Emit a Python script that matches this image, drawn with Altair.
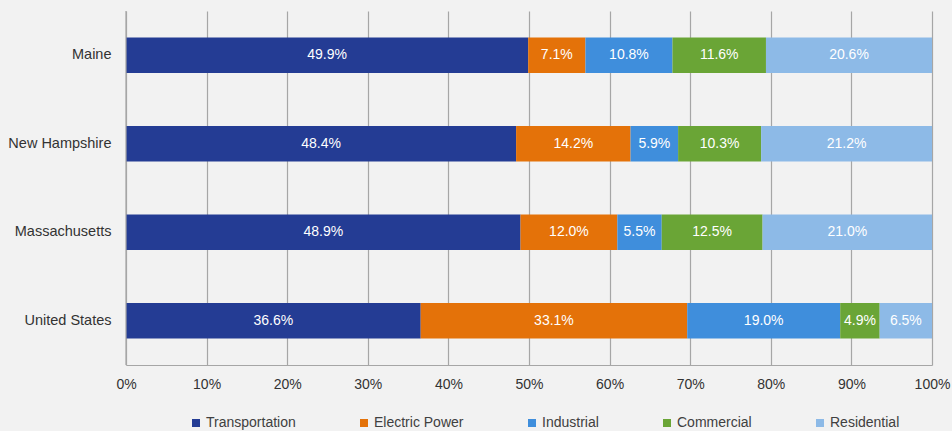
import altair as alt
import pandas as pd

states = ["Maine", "New Hampshire", "Massachusetts", "United States"]
sectors = ["Transportation", "Electric Power", "Industrial", "Commercial", "Residential"]
colors = ["#243c94", "#e47209", "#3f8edc", "#6aa536", "#8dbae7"]

transportation = [49.9, 48.4, 48.9, 36.6]
electric_power = [7.1, 14.2, 12.0, 33.1]
industrial = [10.8, 5.9, 5.5, 19.0]
commercial = [11.6, 10.3, 12.5, 4.9]
residential = [20.6, 21.2, 21.0, 6.5]

series = [transportation, electric_power, industrial, commercial, residential]
rows = []
for si, (sec, vals) in enumerate(zip(sectors, series)):
    for st, v in zip(states, vals):
        rows.append({"state": st, "sector": sec, "value": v, "order": si,
                     "label": f"{v:.1f}%"})
df = pd.DataFrame(rows)

FONT = "Liberation Sans"

base = alt.Chart(df).transform_stack(
    stack="value", as_=["x0", "x1"], groupby=["state"],
    sort=[alt.SortField("order", order="ascending")], offset="normalize"
).transform_calculate(mid="(datum.x0 + datum.x1) / 2")

yenc = alt.Y("state:N", sort=states, scale=alt.Scale(paddingInner=0.6, paddingOuter=0.3),
             axis=alt.Axis(title=None, labelFontSize=14.5, labelColor="#333333", labelFont=FONT,
                           labelPadding=15, ticks=False, domain=False, grid=False))

bars = base.mark_bar().encode(
    x=alt.X("x0:Q", scale=alt.Scale(domain=[0, 1], nice=False),
            axis=alt.Axis(title=None, format=".0%", values=[i / 10 for i in range(11)],
                          labelFontSize=14, labelColor="#333333", labelFont=FONT,
                          labelFlush=False, labelBound=False,
                          labelPadding=12, ticks=False, grid=True, gridColor="#a6a6a6",
                          gridWidth=1.2, domainColor="#a6a6a6", domainWidth=1.2)),
    x2="x1:Q",
    y=yenc,
    color=alt.Color("sector:N", scale=alt.Scale(domain=sectors, range=colors),
                    sort=sectors,
                    legend=alt.Legend(title=None, orient="none", direction="horizontal",
                                      legendX=63, legendY=405, symbolType="square",
                                      symbolSize=64, symbolStrokeWidth=0,
                                      labelFontSize=14, labelFont=FONT, labelColor="#404040",
                                      labelOffset=3, columnPadding=61)),
)

labels = base.mark_text(color="white", fontSize=14, font=FONT).encode(
    x="mid:Q",
    y=alt.Y("state:N", sort=states),
    text="label:N",
)

leftline = alt.Chart(pd.DataFrame({"x": [0]})).mark_rule(color="#a6a6a6", strokeWidth=1.2).encode(
    x=alt.X("x:Q")
)

chart = alt.layer(bars, labels, leftline).properties(
    width=806, height=354,
    padding={"left": 126, "top": 11, "right": 20, "bottom": 66},
    autosize=alt.AutoSizeParams(type="none"),
    background="#f2f2f2",
).configure_view(stroke=None)

chart.save("out.html", embed_options={"renderer": "svg", "actions": False})
